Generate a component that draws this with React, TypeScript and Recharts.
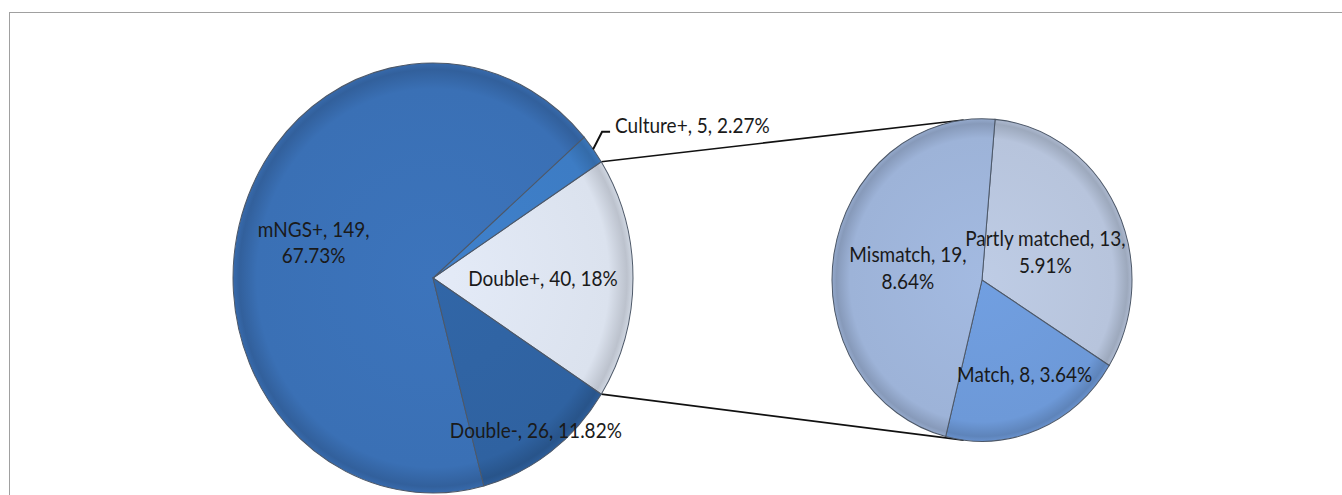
import React from 'react';
import { PieChart, Pie, Cell, Customized } from 'recharts';

// ---- data ----
const mainCategories = ['Double+', 'Culture+', 'mNGS+', 'Double-'];
const mainValues = [40, 5, 149, 26];
const mainPercents = ['18%', '2.27%', '67.73%', '11.82%'];

const subCategories = ['Partly matched', 'Match', 'Mismatch'];
const subValues = [13, 8, 19];
const subPercents = ['5.91%', '3.64%', '8.64%'];

// ---- styles ----
const mainColors = ['#dbe2ee', '#3d7cc4', '#3a70b5', '#2f62a1'];
const subColors = ['#b7c4dc', '#6d99d8', '#9db3d8'];
// label placement: angle offset from slice mid (deg), radius fraction, wrap after 2nd comma
const mainLabelPlace = [
  { dAngle: 0, frac: 0.55, wrap: false },
  { dAngle: 0, frac: 0, wrap: false, outside: true },
  { dAngle: 1.4, frac: 0.62, wrap: true },
  { dAngle: 0, frac: 0.875, wrap: false },
];
const subLabelPlace = [
  { dAngle: -3.3, frac: 0.46, wrap: true },
  { dAngle: 4, frac: 0.65, wrap: false },
  { dAngle: 0.5, frac: 0.5, wrap: true },
];

const W = 1342;
const H = 495;
const STRETCH = 1.075;
const CH = H / STRETCH;
const LEFT = { cx: 433, cy: 258.6, r: 200 };
const RIGHT = { cx: 982, cy: 260.5, r: 150 };
const CONNECT_ANGLE = 97;
const FONT = 'Lato, "Open Sans", sans-serif';
const FS = 19;
const LH = 25;

const mainTotal = mainValues.reduce((a, b) => a + b, 0);
const leftStart = -((mainValues[0] / mainTotal) * 360) / 2;
const rightStart = 85;

const mainData = mainCategories.map((name, i) => ({ name, value: mainValues[i], pct: mainPercents[i] }));
const subData = subCategories.map((name, i) => ({ name, value: subValues[i], pct: subPercents[i] }));

const RAD = Math.PI / 180;
const polar = (c: { cx: number; cy: number }, r: number, a: number) => ({
  x: c.cx + r * Math.cos(a * RAD),
  y: c.cy - r * Math.sin(a * RAD),
});

function shade(hex: string, f: number) {
  const n = parseInt(hex.slice(1), 16);
  const r = Math.min(255, Math.round(((n >> 16) & 255) * f));
  const g = Math.min(255, Math.round(((n >> 8) & 255) * f));
  const b = Math.min(255, Math.round((n & 255) * f));
  return `rgb(${r},${g},${b})`;
}

function makeLabel(data: any[], place: any[], center: { cx: number; cy: number; r: number }) {
  return (props: any) => {
    const i = props.index;
    const d = data[i];
    const p = place[i];
    const mid = props.midAngle;
    if (p.outside) {
      const rim = polar(center, center.r, mid);
      const elbow = polar(center, center.r * 1.085, mid + 2);
      return (
        <g>
          <polyline
            points={`${rim.x},${rim.y} ${elbow.x},${elbow.y} ${elbow.x + 8},${elbow.y}`}
            fill="none"
            stroke="#111"
            strokeWidth={2}
          />
          <text x={elbow.x + 13} y={elbow.y + 1} fill="#1a1a1a" fontFamily={FONT} fontSize={FS} textAnchor="start">
            {`${d.name}, ${d.value}, ${d.pct}`}
          </text>
        </g>
      );
    }
    const pt = polar(center, center.r * p.frac, mid + p.dAngle);
    if (p.wrap) {
      return (
        <text x={pt.x} y={pt.y} fill="#1a1a1a" fontFamily={FONT} fontSize={FS} textAnchor="middle" dominantBaseline="central">
          <tspan x={pt.x} y={pt.y - LH / 2}>{`${d.name}, ${d.value},`}</tspan>
          <tspan x={pt.x} y={pt.y + LH / 2}>{d.pct}</tspan>
        </text>
      );
    }
    return (
      <text x={pt.x} y={pt.y} fill="#1a1a1a" fontFamily={FONT} fontSize={FS} textAnchor="middle" dominantBaseline="central">
        {`${d.name}, ${d.value}, ${d.pct}`}
      </text>
    );
  };
}

const Connectors = () => {
  const half = ((mainValues[0] / mainTotal) * 360) / 2;
  const a1 = polar(LEFT, LEFT.r, half);
  const a2 = polar(LEFT, LEFT.r, -half);
  const b1 = polar(RIGHT, RIGHT.r, CONNECT_ANGLE);
  const b2 = polar(RIGHT, RIGHT.r, -CONNECT_ANGLE);
  return (
    <g>
      <line x1={a1.x} y1={a1.y} x2={b1.x} y2={b1.y} stroke="#111" strokeWidth={1.6} />
      <line x1={a2.x} y1={a2.y} x2={b2.x} y2={b2.y} stroke="#111" strokeWidth={1.6} />
    </g>
  );
};

const grad = (id: string, c: { cx: number; cy: number; r: number }, color: string) => (
  <radialGradient key={id} id={id} gradientUnits="userSpaceOnUse" cx={c.cx} cy={c.cy} r={c.r}>
    <stop offset="0%" stopColor={shade(color, 1.04)} />
    <stop offset="88%" stopColor={color} />
    <stop offset="97%" stopColor={shade(color, 0.86)} />
    <stop offset="100%" stopColor={shade(color, 0.95)} />
  </radialGradient>
);

export default function App() {
  return (
    <div style={{ position: 'absolute', left: 0, top: 0, width: W, height: H, overflow: 'hidden', background: '#fff' }}>
      <div
        style={{
          position: 'absolute',
          left: 9,
          top: 12,
          width: W,
          height: H,
          borderTop: '1px solid #a0a0a0',
          borderLeft: '1px solid #a0a0a0',
        }}
      />
      <div style={{ position: 'absolute', left: 0, top: 0, transform: `scale(1, ${STRETCH})`, transformOrigin: '0 0' }}>
        <PieChart width={W} height={CH} margin={{ top: 0, right: 0, bottom: 0, left: 0 }}>
          <defs>
            {mainColors.map((c, i) => grad(`gm${i}`, LEFT, c))}
            {subColors.map((c, i) => grad(`gs${i}`, RIGHT, c))}
          </defs>
          <Customized component={Connectors} />
          <Pie
            data={mainData}
            dataKey="value"
            nameKey="name"
            cx={LEFT.cx}
            cy={LEFT.cy}
            outerRadius={LEFT.r}
            startAngle={leftStart}
            endAngle={leftStart + 360}
            isAnimationActive={false}
            stroke="#4d5868"
            strokeWidth={1}
            label={makeLabel(mainData, mainLabelPlace, LEFT)}
            labelLine={false}
          >
            {mainData.map((d, i) => (
              <Cell key={d.name} fill={`url(#gm${i})`} />
            ))}
          </Pie>
          <Pie
            data={subData}
            dataKey="value"
            nameKey="name"
            cx={RIGHT.cx}
            cy={RIGHT.cy}
            outerRadius={RIGHT.r}
            startAngle={rightStart}
            endAngle={rightStart - 360}
            isAnimationActive={false}
            stroke="#4d5868"
            strokeWidth={1}
            label={makeLabel(subData, subLabelPlace, RIGHT)}
            labelLine={false}
          >
            {subData.map((d, i) => (
              <Cell key={d.name} fill={`url(#gs${i})`} />
            ))}
          </Pie>
        </PieChart>
      </div>
    </div>
  );
}
